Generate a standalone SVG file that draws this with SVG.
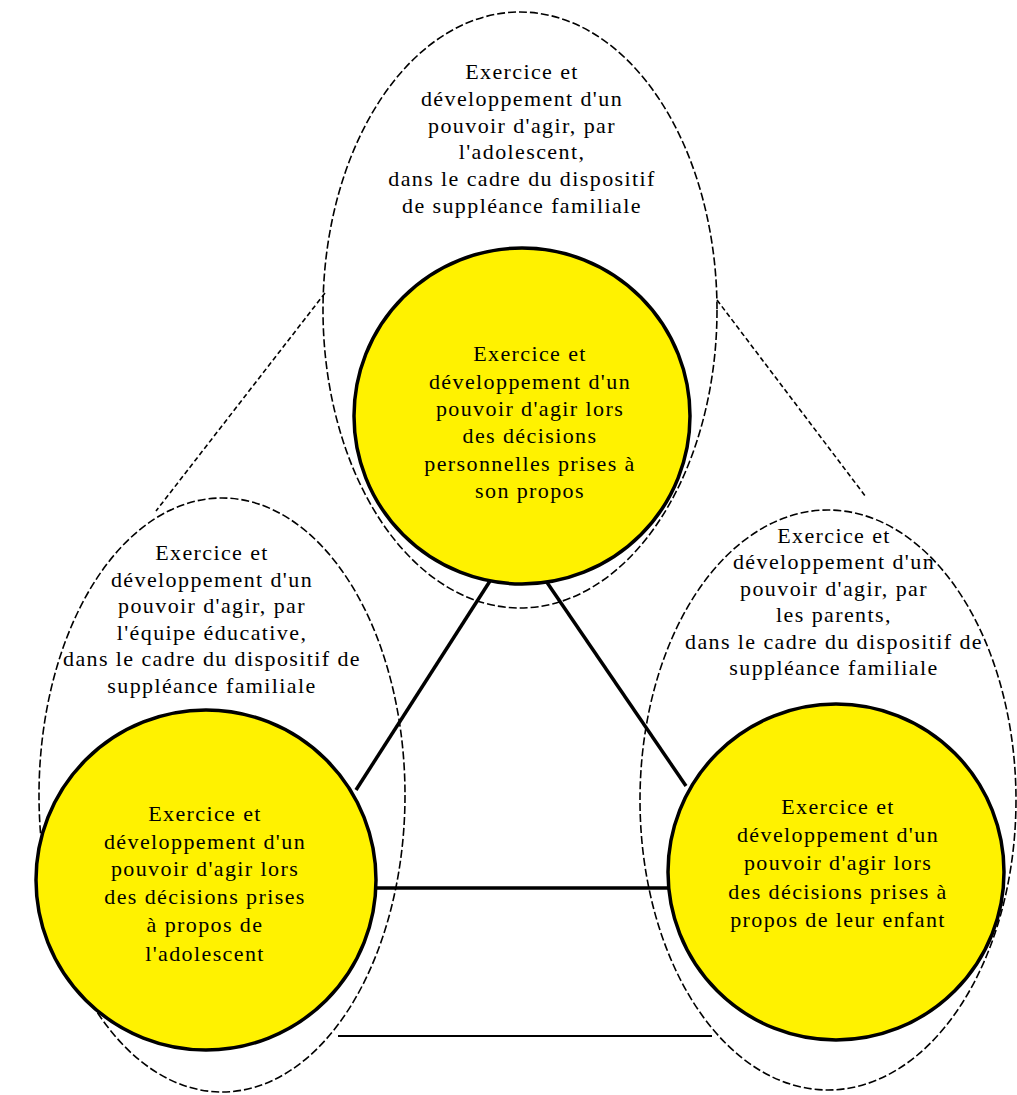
<svg xmlns="http://www.w3.org/2000/svg" width="1017" height="1095" viewBox="0 0 1017 1095">
  <style>
    .zone { fill: none; stroke: #000; stroke-width: 1.6; stroke-dasharray: 8 3; }
    .guide { fill: none; stroke: #000; stroke-width: 1.6; stroke-dasharray: 5 3; }
    .core { fill: #FFF200; stroke: #000; stroke-width: 3.5; }
    .link { stroke: #000; stroke-width: 3.5; fill: none; }
    .base { stroke: #000; stroke-width: 2; fill: none; }
    text { font-family: "Liberation Serif", "DejaVu Serif", serif; font-size: 22px; letter-spacing: 1.4px; fill: #000; text-anchor: middle; }
  </style>
  <rect width="1017" height="1095" fill="#fff"/>

  <!-- dashed domains -->
  <g id="zone-adolescent">
    <ellipse class="zone" cx="520" cy="310" rx="197" ry="298"/>
    <text x="522" y="79">Exercice et</text>
    <text x="522" y="106">développement d'un</text>
    <text x="522" y="133">pouvoir d'agir, par</text>
    <text x="522" y="159">l'adolescent,</text>
    <text x="522" y="186">dans le cadre du dispositif</text>
    <text x="522" y="213">de suppléance familiale</text>
  </g>

  <g id="zone-equipe">
    <ellipse class="zone" cx="222" cy="795" rx="183" ry="297"/>
    <text x="212" y="560">Exercice et</text>
    <text x="212" y="587">développement d'un</text>
    <text x="212" y="613">pouvoir d'agir, par</text>
    <text x="212" y="640">l'équipe éducative,</text>
    <text x="212" y="666">dans le cadre du dispositif de</text>
    <text x="212" y="693">suppléance familiale</text>
  </g>

  <g id="zone-parents">
    <ellipse class="zone" cx="828" cy="800" rx="188" ry="290"/>
    <text x="834" y="543">Exercice et</text>
    <text x="834" y="569">développement d'un</text>
    <text x="834" y="596">pouvoir d'agir, par</text>
    <text x="834" y="622">les parents,</text>
    <text x="834" y="649">dans le cadre du dispositif de</text>
    <text x="834" y="675">suppléance familiale</text>
  </g>

  <!-- connectors -->
  <g id="connectors">
    <line class="guide" x1="325" y1="293" x2="156" y2="511"/>
    <line class="guide" x1="717" y1="300" x2="866" y2="497"/>
    <line class="link" x1="490" y1="581" x2="356" y2="790"/>
    <line class="link" x1="546" y1="581" x2="686" y2="786"/>
    <line class="link" x1="374" y1="888" x2="670" y2="888"/>
    <line class="base" x1="338" y1="1036" x2="712" y2="1036"/>
  </g>

  <!-- yellow cores -->
  <g id="core-adolescent">
    <circle class="core" cx="522" cy="416" r="168"/>
    <text x="530" y="361">Exercice et</text>
    <text x="530" y="389">développement d'un</text>
    <text x="530" y="416">pouvoir d'agir lors</text>
    <text x="530" y="443">des décisions</text>
    <text x="530" y="471">personnelles prises à</text>
    <text x="530" y="498">son propos</text>
  </g>

  <g id="core-equipe">
    <circle class="core" cx="206" cy="880" r="170"/>
    <text x="205" y="821">Exercice et</text>
    <text x="205" y="849">développement d'un</text>
    <text x="205" y="876">pouvoir d'agir lors</text>
    <text x="205" y="904">des décisions prises</text>
    <text x="205" y="932">à propos de</text>
    <text x="205" y="961">l'adolescent</text>
  </g>

  <g id="core-parents">
    <circle class="core" cx="836" cy="872" r="168"/>
    <text x="838" y="814">Exercice et</text>
    <text x="838" y="842">développement d'un</text>
    <text x="838" y="870">pouvoir d'agir lors</text>
    <text x="838" y="899">des décisions prises à</text>
    <text x="838" y="927">propos de leur enfant</text>
  </g>
</svg>
